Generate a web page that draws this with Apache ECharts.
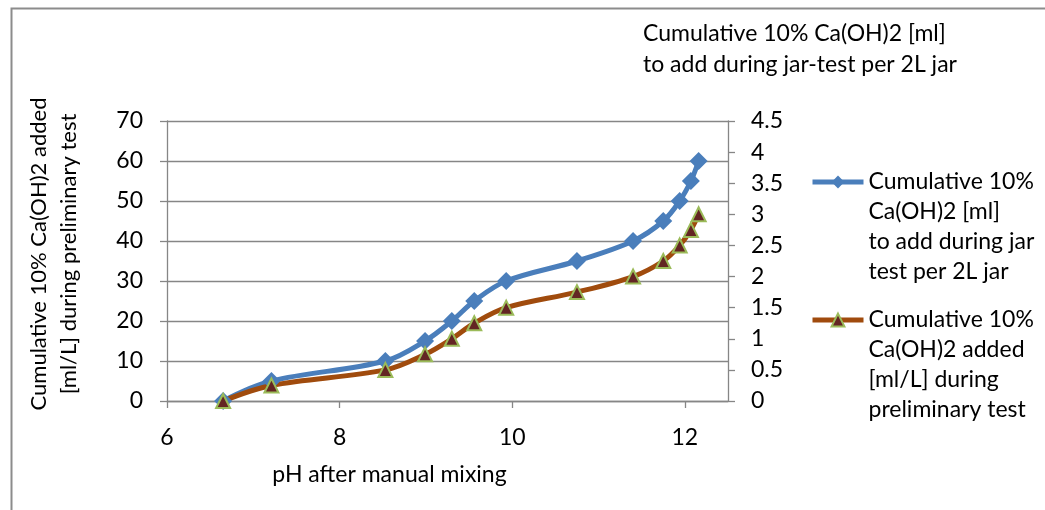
<!DOCTYPE html>
<html>
<head>
<meta charset="utf-8">
<script src="https://cdn.jsdelivr.net/npm/echarts@6/dist/echarts.min.js"></script>
<style>
html,body{margin:0;padding:0;background:#fff;}
#chart{width:1045px;height:510px;}
</style>
</head>
<body>
<div id="chart"></div>
<script>
// Data
const phValues = [6.65, 7.21, 8.53, 8.99, 9.30, 9.56, 9.93, 10.75, 11.40, 11.75, 11.94, 12.07, 12.16];
const jarTestMl = [0, 5, 10, 15, 20, 25, 30, 35, 40, 45, 50, 55, 60];
const preliminaryMlPerL = [0, 0.25, 0.5, 0.75, 1, 1.25, 1.5, 1.75, 2, 2.25, 2.5, 2.75, 3];
const xTicks = [6, 8, 10, 12];

const seriesJarName = 'Cumulative 10%\nCa(OH)2 [ml]\nto add during jar\ntest per 2L jar';
const seriesPrelimName = 'Cumulative 10%\nCa(OH)2 added\n[ml/L] during\npreliminary test';
const xTitle = 'pH after manual mixing';
const leftTitle = 'Cumulative 10% Ca(OH)2 added\n[ml/L] during preliminary test';
const rightTitle = 'Cumulative 10% Ca(OH)2 [ml]\nto add during jar-test per 2L jar';

const FONT = 'Lato';
const FS = 23;
const TXT = '#000';
const AX = '#868686';
const BLUE = '#4A7EBB';
const BROWN = '#A04B0D';

const chart = echarts.init(document.getElementById('chart'), null, {renderer: 'canvas'});

const legendText = {fontFamily: FONT, fontSize: FS, color: TXT, lineHeight: 30};
// three leading empty lines so the first text line sits beside the legend symbol
const legendFmt = name => '\n\n\n' + name;

chart.setOption({
  animation: false,
  backgroundColor: '#fff',
  title: {
    text: rightTitle,
    left: 643, top: 18, padding: 0,
    textStyle: {fontFamily: FONT, fontSize: FS, fontWeight: 'normal', color: TXT, lineHeight: 31}
  },
  graphic: [{
    type: 'rect', left: 9, top: 6, z: -1,
    shape: {width: 1100, height: 600},
    style: {fill: 'none', stroke: '#8c8c8c', lineWidth: 2}
  }],
  legend: [{
    data: [seriesJarName], orient: 'vertical', left: 810, top: 77, padding: 0,
    itemWidth: 51, itemHeight: 16, textStyle: legendText, formatter: legendFmt,
    lineStyle: {width: 5}
  }, {
    data: [seriesPrelimName], orient: 'vertical', left: 810, top: 215, padding: 0,
    itemWidth: 51, itemHeight: 16, textStyle: legendText, formatter: legendFmt,
    lineStyle: {width: 5}
  }],
  grid: {left: 167, right: 317, top: 121, bottom: 109, containLabel: false},
  xAxis: {
    type: 'value', min: 6, max: 12.5, interval: 2,
    name: xTitle, nameLocation: 'middle', nameGap: 62,
    nameTextStyle: {fontFamily: FONT, fontSize: FS, color: TXT, padding: [0, 116, 0, 0]},
    axisLine: {show: true, lineStyle: {color: AX, width: 1.3}},
    axisTick: {show: true, length: 7, lineStyle: {color: AX, width: 1.3}, customValues: xTicks},
    axisLabel: {fontFamily: FONT, fontSize: FS, color: TXT, margin: 25, customValues: xTicks},
    splitLine: {show: false}
  },
  yAxis: [{
    type: 'value', min: 0, max: 70, interval: 10, position: 'left',
    name: leftTitle, nameLocation: 'middle', nameGap: 83, nameRotate: 90,
    nameTextStyle: {fontFamily: FONT, fontSize: 22, color: TXT, lineHeight: 30, padding: [0, 0, 0, 14]},
    axisLine: {show: true, lineStyle: {color: AX, width: 1.3}},
    axisTick: {show: true, length: 7, lineStyle: {color: AX, width: 1.3}},
    axisLabel: {fontFamily: FONT, fontSize: FS, color: TXT, margin: 24},
    splitLine: {show: true, lineStyle: {color: AX, width: 1.3}}
  }, {
    type: 'value', min: 0, max: 4.5, interval: 0.5, position: 'right',
    axisLine: {show: true, lineStyle: {color: AX, width: 1.3}},
    axisTick: {show: true, length: 7, lineStyle: {color: AX, width: 1.3}},
    axisLabel: {fontFamily: FONT, fontSize: FS, color: TXT, margin: 23},
    splitLine: {show: false}
  }],
  series: [{
    name: seriesJarName,
    type: 'line', yAxisIndex: 0, smooth: 0.35,
    data: phValues.map((x, i) => [x, jarTestMl[i]]),
    symbol: 'diamond', symbolSize: 18,
    lineStyle: {color: BLUE, width: 5},
    itemStyle: {color: BLUE, borderColor: BLUE, borderWidth: 0}
  }, {
    name: seriesPrelimName,
    type: 'line', yAxisIndex: 1, smooth: 0.35,
    data: phValues.map((x, i) => [x, preliminaryMlPerL[i]]),
    symbol: 'triangle', symbolSize: 14,
    lineStyle: {color: BROWN, width: 5},
    itemStyle: {color: '#632523', borderColor: '#9BBB59', borderWidth: 2}
  }]
});
</script>
</body>
</html>
